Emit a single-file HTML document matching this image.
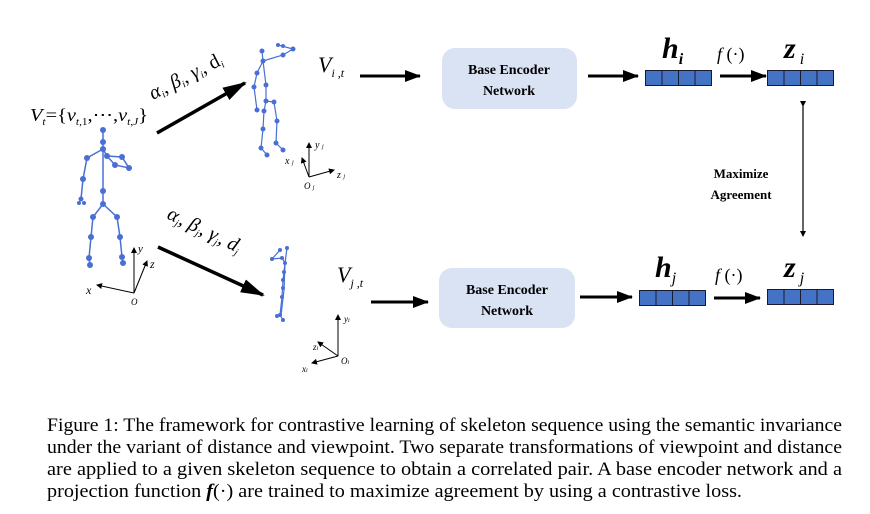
<!DOCTYPE html>
<html><head><meta charset="utf-8"><style>
html,body{margin:0;padding:0;background:#fff}
svg{display:block}
.tm{font-family:"Liberation Serif",serif}
.b{font-family:"Liberation Serif",serif;font-weight:bold}
</style></head><body>
<svg width="870" height="514" viewBox="0 0 870 514" xmlns="http://www.w3.org/2000/svg">
<defs>
<marker id="ahb" markerWidth="24" markerHeight="16" refX="22" refY="8" orient="auto" markerUnits="userSpaceOnUse"><path d="M0,1 L24,8 L0,15 z" fill="#000"/></marker>
<marker id="ahm" markerWidth="16" markerHeight="12" refX="15" refY="6" orient="auto" markerUnits="userSpaceOnUse"><path d="M0,0 L16,6 L0,12 z" fill="#000"/></marker>
<marker id="as" markerWidth="6" markerHeight="6" refX="5" refY="3" orient="auto" markerUnits="userSpaceOnUse"><path d="M0,0 L6,3 L0,6 z" fill="#000"/></marker>
</defs>

<g stroke="#4a6fd4" stroke-width="1.5" fill="none">
<polyline points="103,130 103,142 103,149 103,191 103,204"/>
<polyline points="103,149 87,158 83,179 81,199"/>
<polyline points="103,149 107,156 122,157 129,168 115,165 107,156"/>
<polyline points="103,204 93,217 91,237 89,258 90,265"/>
<polyline points="103,204 117,217 120,237 122,257 123,263"/>
</g>
<g fill="#4a6fd4">
<circle cx="103" cy="130" r="3"/><circle cx="103" cy="142" r="3"/><circle cx="103" cy="149" r="3"/>
<circle cx="87" cy="158" r="3"/><circle cx="83" cy="179" r="3"/><circle cx="81" cy="199" r="2.5"/><circle cx="79" cy="203" r="2"/><circle cx="84" cy="203" r="2"/>
<circle cx="107" cy="156" r="3"/><circle cx="122" cy="157" r="3"/><circle cx="129" cy="168" r="3"/><circle cx="115" cy="165" r="3"/>
<circle cx="103" cy="191" r="3"/><circle cx="103" cy="204" r="3"/>
<circle cx="93" cy="217" r="3"/><circle cx="91" cy="237" r="3"/><circle cx="89" cy="258" r="3"/><circle cx="90" cy="265" r="3"/>
<circle cx="117" cy="217" r="3"/><circle cx="120" cy="237" r="3"/><circle cx="122" cy="257" r="3"/><circle cx="123" cy="263" r="3"/>
</g>
<g stroke="#000" stroke-width="1" marker-end="url(#as)">
<line x1="134" y1="293" x2="134" y2="248"/>
<line x1="134" y1="293" x2="147" y2="261"/>
<line x1="134" y1="293" x2="97" y2="285"/>
</g>
<text class="tm" x="138" y="252" font-size="11" font-style="italic">y</text>
<text class="tm" x="150" y="268" font-size="12" font-style="italic">z</text>
<text class="tm" x="86" y="294" font-size="12" font-style="italic">x</text>
<text class="tm" x="131" y="305" font-size="9" font-style="italic">O</text>

<text class="tm" x="30" y="121" font-size="18" font-style="italic" textLength="118" lengthAdjust="spacingAndGlyphs">V<tspan font-size="10" dy="4">t</tspan><tspan dy="-4" font-style="normal">={</tspan>v<tspan font-size="10" dy="4">t</tspan><tspan font-size="10" font-style="normal">,1</tspan><tspan dy="-4" font-style="normal">,⋯,</tspan>v<tspan font-size="10" dy="4">t</tspan><tspan font-size="10" font-style="normal">,</tspan><tspan font-size="10">J</tspan><tspan dy="-4" font-style="normal">}</tspan></text>

<line x1="157" y1="133" x2="245" y2="83" stroke="#000" stroke-width="3.5" marker-end="url(#ahb)"/>
<text class="tm" font-size="20" font-style="italic" transform="translate(153,100) rotate(-27)">α<tspan font-size="10" dy="3">i</tspan><tspan dy="-3" font-style="normal">, </tspan>β<tspan font-size="10" dy="3">i</tspan><tspan dy="-3" font-style="normal">, </tspan>γ<tspan font-size="10" dy="3">i</tspan><tspan dy="-3" font-style="normal">, </tspan><tspan font-style="normal">d</tspan><tspan font-size="10" dy="3">i</tspan></text>
<line x1="158" y1="247" x2="263" y2="295" stroke="#000" stroke-width="3.5" marker-end="url(#ahb)"/>
<text class="tm" font-size="20" font-style="italic" transform="translate(166,218) rotate(26)">α<tspan font-size="10" dy="3">j</tspan><tspan dy="-3" font-style="normal">, </tspan>β<tspan font-size="10" dy="3">j</tspan><tspan dy="-3" font-style="normal">, </tspan>γ<tspan font-size="10" dy="3">j</tspan><tspan dy="-3" font-style="normal">, </tspan>d<tspan font-size="10" dy="3">j</tspan></text>

<g stroke="#4a6fd4" stroke-width="1.2" fill="none">
<polyline points="262,51 263,61 266,85 266,101 264,111 263,129 261,148 267,155"/>
<polyline points="263,61 283,55 293,49 278,45"/>
<polyline points="263,61 257,73 254,87 257,110"/>
<polyline points="266,101 274,102 277,121 276,143 283,150"/>
</g>
<g fill="#4a6fd4">
<circle cx="262" cy="51" r="2.5"/><circle cx="263" cy="61" r="2.5"/><circle cx="283" cy="55" r="2.5"/><circle cx="293" cy="49" r="2.5"/><circle cx="278" cy="45" r="2"/><circle cx="283" cy="46" r="2"/>
<circle cx="257" cy="73" r="2.5"/><circle cx="254" cy="87" r="2.5"/><circle cx="257" cy="110" r="2.5"/><circle cx="266" cy="85" r="2.5"/><circle cx="266" cy="101" r="2.5"/><circle cx="264" cy="111" r="2.5"/><circle cx="263" cy="129" r="2.5"/><circle cx="261" cy="148" r="2.5"/><circle cx="267" cy="155" r="2.5"/><circle cx="274" cy="102" r="2.5"/><circle cx="277" cy="121" r="2.5"/><circle cx="276" cy="143" r="2.5"/><circle cx="283" cy="150" r="2.5"/>
</g>
<g stroke="#000" stroke-width="1" marker-end="url(#as)">
<line x1="309" y1="177" x2="309" y2="143"/>
<line x1="309" y1="177" x2="334" y2="170"/>
<line x1="309" y1="177" x2="302" y2="158"/>
</g>
<text class="tm" x="315" y="148" font-size="10" font-style="italic">y <tspan font-size="6">j</tspan></text>
<text class="tm" x="337" y="178" font-size="10" font-style="italic">z <tspan font-size="6">j</tspan></text>
<text class="tm" x="285" y="164" font-size="10" font-style="italic">x <tspan font-size="6">j</tspan></text>
<text class="tm" x="304" y="189" font-size="9" font-style="italic">O <tspan font-size="6">j</tspan></text>

<g stroke="#4a6fd4" stroke-width="1.2" fill="none">
<polyline points="287,248 285,263 283,280 282,297 280,315 283,320"/>
<polyline points="280,250 272,259 282,258 285,263"/>
<polyline points="285,263 284,290 281,316 277,316"/>
</g>
<g fill="#4a6fd4">
<circle cx="287" cy="248" r="2"/><circle cx="280" cy="250" r="2"/><circle cx="272" cy="259" r="2"/><circle cx="282" cy="258" r="2"/><circle cx="285" cy="263" r="2"/><circle cx="284" cy="272" r="2"/><circle cx="283" cy="280" r="2"/><circle cx="282" cy="297" r="2"/><circle cx="280" cy="315" r="2"/><circle cx="283" cy="320" r="2"/><circle cx="277" cy="316" r="2"/><circle cx="283" cy="288" r="2"/>
</g>
<g stroke="#000" stroke-width="1" marker-end="url(#as)">
<line x1="338" y1="356" x2="338" y2="315"/>
<line x1="338" y1="356" x2="318" y2="342"/>
<line x1="338" y1="356" x2="312" y2="363"/>
</g>
<text class="tm" x="344" y="322" font-size="9" font-style="italic">y<tspan font-size="6">i</tspan></text>
<text class="tm" x="313" y="350" font-size="9" font-style="italic">z<tspan font-size="6">i</tspan></text>
<text class="tm" x="302" y="372" font-size="9" font-style="italic">x<tspan font-size="6">i</tspan></text>
<text class="tm" x="341" y="364" font-size="9" font-style="italic">O<tspan font-size="6">i</tspan></text>

<text class="tm" x="318" y="72" font-size="22" font-style="italic">V<tspan font-size="12" dy="5">i ,t</tspan></text>
<text class="tm" x="337" y="282" font-size="22" font-style="italic">V<tspan font-size="12" dy="5">j ,t</tspan></text>

<g stroke="#000" stroke-width="3">
<line x1="360" y1="76" x2="420" y2="76" marker-end="url(#ahm)"/>
<line x1="371" y1="302" x2="428" y2="302" marker-end="url(#ahm)"/>
<line x1="588" y1="76" x2="638" y2="76" marker-end="url(#ahm)"/>
<line x1="580" y1="297" x2="632" y2="297" marker-end="url(#ahm)"/>
<line x1="720" y1="76" x2="766" y2="76" marker-end="url(#ahm)"/>
<line x1="714" y1="298" x2="760" y2="298" marker-end="url(#ahm)"/>
</g>
<rect x="442" y="48" width="135" height="61" rx="13" fill="#dae3f3"/>
<rect x="439" y="268" width="136" height="60" rx="13" fill="#dae3f3"/>
<text class="b" x="509" y="74" font-size="14" text-anchor="middle">Base Encoder</text>
<text class="b" x="509" y="95" font-size="14" text-anchor="middle">Network</text>
<text class="b" x="507" y="294" font-size="14" text-anchor="middle">Base Encoder</text>
<text class="b" x="507" y="315" font-size="14" text-anchor="middle">Network</text>

<g fill="#4472c4" stroke="#1a1a2e" stroke-width="1">
<rect x="645.5" y="70.5" width="16.5" height="15"/><rect x="662" y="70.5" width="16.5" height="15"/><rect x="678.5" y="70.5" width="16.5" height="15"/><rect x="695" y="70.5" width="16.5" height="15"/>
<rect x="767.5" y="70.5" width="16.5" height="15"/><rect x="784" y="70.5" width="16.5" height="15"/><rect x="800.5" y="70.5" width="16.5" height="15"/><rect x="817" y="70.5" width="16.5" height="15"/>
<rect x="639.5" y="290.5" width="16.5" height="15"/><rect x="656" y="290.5" width="16.5" height="15"/><rect x="672.5" y="290.5" width="16.5" height="15"/><rect x="689" y="290.5" width="16.5" height="15"/>
<rect x="767.5" y="289.5" width="16.5" height="15"/><rect x="784" y="289.5" width="16.5" height="15"/><rect x="800.5" y="289.5" width="16.5" height="15"/><rect x="817" y="289.5" width="16.5" height="15"/>
</g>
<text class="b" x="662" y="58" font-size="30" font-style="italic">h<tspan font-size="16" dy="6">i</tspan></text>
<text class="b" x="784" y="58" font-size="30" font-style="italic">z<tspan font-size="16" dy="6" font-weight="normal"> i</tspan></text>
<text class="b" x="655" y="277" font-size="30" font-style="italic">h<tspan font-size="16" dy="6" font-weight="normal">j</tspan></text>
<text class="b" x="784" y="277" font-size="30" font-style="italic">z<tspan font-size="16" dy="6" font-weight="normal"> j</tspan></text>
<text class="tm" x="717" y="60" font-size="18"><tspan font-style="italic">f</tspan> (·)</text>
<text class="tm" x="715" y="281" font-size="18"><tspan font-style="italic">f</tspan> (·)</text>

<line x1="803" y1="106" x2="803" y2="236" stroke="#000" stroke-width="1.2" marker-start="url(#as)" marker-end="url(#as)"/>
<text class="b" x="741" y="178" font-size="13" text-anchor="middle">Maximize</text>
<text class="b" x="741" y="199" font-size="13" text-anchor="middle">Agreement</text>

<g class="tm" font-size="19">
<text x="47" y="431" textLength="795" lengthAdjust="spacingAndGlyphs">Figure 1: The framework for contrastive learning of skeleton sequence using the semantic invariance</text>
<text x="47" y="453" textLength="795" lengthAdjust="spacingAndGlyphs">under the variant of distance and viewpoint. Two separate transformations of viewpoint and distance</text>
<text x="47" y="475" textLength="795" lengthAdjust="spacingAndGlyphs">are applied to a given skeleton sequence to obtain a correlated pair. A base encoder network and a</text>
<text x="47" y="497" textLength="695" lengthAdjust="spacingAndGlyphs">projection function <tspan font-style="italic" font-weight="bold">f</tspan>(·) are trained to maximize agreement by using a contrastive loss.</text>
</g>
</svg>
</body></html>
